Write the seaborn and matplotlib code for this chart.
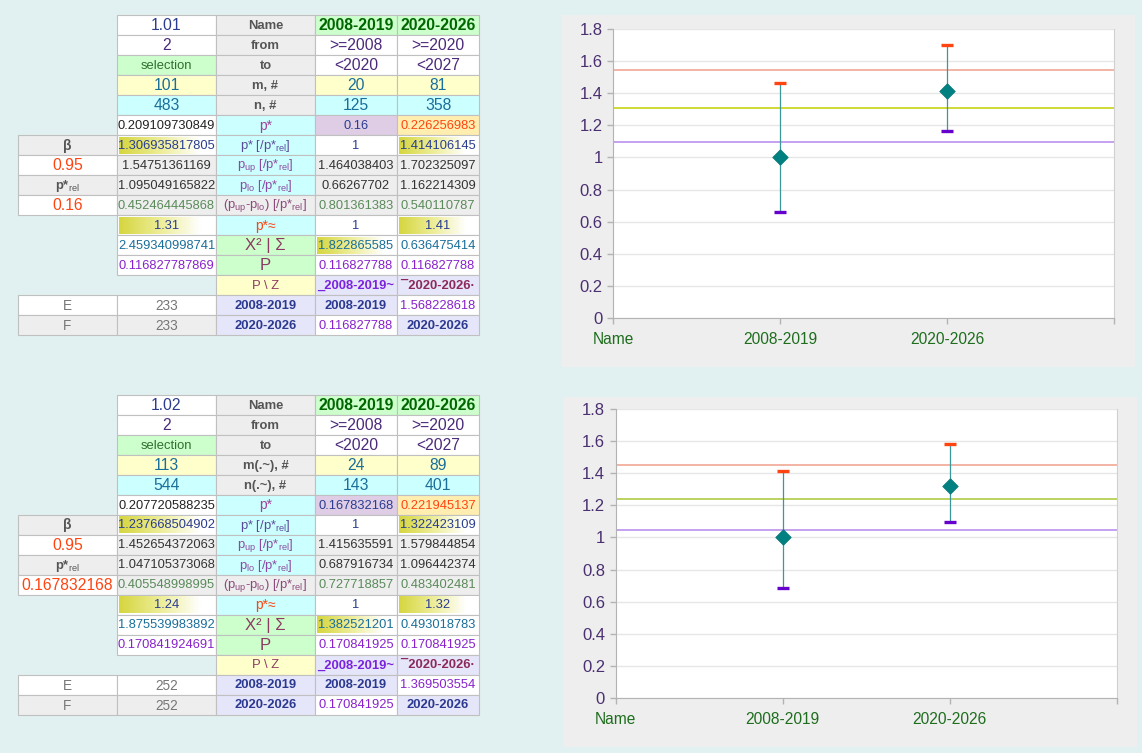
"""Two result blocks: a spreadsheet-like table and an interval chart beside each."""
import numpy as np
import pandas as pd
import matplotlib
matplotlib.use('Agg')
import matplotlib.pyplot as plt
import seaborn as sns
from matplotlib.patches import Rectangle
from matplotlib.colors import LinearSegmentedColormap

# ---- data -------------------------------------------------------------
periods = ['2008-2019', '2020-2026']
from_txt = ['>=2008', '>=2020']
to_txt = ['<2020', '<2027']

# block 1 (values: total, 2008-2019, 2020-2026)
top_version = 1.01
top_count = 2
top_m = [101, 20, 81]
top_n = [483, 125, 358]
top_pstar = [0.209109730849, 0.16, 0.226256983]
top_rel = [1.306935817805, 1, 1.414106145]
top_up = [1.54751361169, 1.464038403, 1.702325097]
top_lo = [1.095049165822, 0.66267702, 1.162214309]
top_span = [0.452464445868, 0.801361383, 0.540110787]
top_approx = [1.31, 1, 1.41]
top_chi = [2.459340998741, 1.822865585, 0.636475414]
top_P = [0.116827787869, 0.116827788, 0.116827788]
top_E = [233, 1.568228618]
top_F = [233, 0.116827788]
top_beta = 0.95
top_prel = 0.16

# block 2
bot_version = 1.02
bot_count = 2
bot_m = [113, 24, 89]
bot_n = [544, 143, 401]
bot_pstar = [0.207720588235, 0.167832168, 0.221945137]
bot_rel = [1.237668504902, 1, 1.322423109]
bot_up = [1.452654372063, 1.415635591, 1.579844854]
bot_lo = [1.047105373068, 0.687916734, 1.096442374]
bot_span = [0.405548998995, 0.727718857, 0.483402481]
bot_approx = [1.24, 1, 1.32]
bot_chi = [1.875539983892, 1.382521201, 0.493018783]
bot_P = [0.170841924691, 0.170841925, 0.170841925]
bot_E = [252, 1.369503554]
bot_F = [252, 0.170841925]
bot_beta = 0.95
bot_prel = 0.167832168

# ---- style -------------------------------------------------------------
plt.rcParams['font.family'] = ['Liberation Sans', 'DejaVu Sans']
plt.rcParams['mathtext.fontset'] = 'custom'
plt.rcParams['mathtext.rm'] = 'Liberation Sans'
plt.rcParams['mathtext.it'] = 'Liberation Sans:italic'

W, G, GREEN, YEL, CYAN, LAV = '#ffffff', '#eeeeee', '#ccffcc', '#ffffcc', '#ccffff', '#e6e6fa'
BLUE, PURP, TEAL, HDR = '#2a3d8f', '#4b2a7a', '#1a6e9a', '#555555'
ORANGE, VIOLET, MAROON = '#ff4411', '#8822cc', '#8b3a62'
BIG, SMALL, LBL = 11.3, 9.3, 9.4
COLS = [18, 117, 216, 315, 397, 479]
ROW_H = 20

grad_cmap = LinearSegmentedColormap.from_list(
    'cellgrad', [(0, '#d6d640'), (0.45, '#eeee9c'), (0.85, '#ffffff'), (1, '#ffffff')])


def fmt(v):
    if isinstance(v, str):
        return v
    v = float(v)
    return str(int(v)) if v.is_integer() else str(v)


def block_rows(b):
    rel_lbl = r'p* [/p*$_{\mathrm{rel}}$]'
    up_lbl = r'p$_{\mathrm{up}}$ [/p*$_{\mathrm{rel}}$]'
    lo_lbl = r'p$_{\mathrm{lo}}$ [/p*$_{\mathrm{rel}}$]'
    span_lbl = r'(p$_{\mathrm{up}}$-p$_{\mathrm{lo}}$) [/p*$_{\mathrm{rel}}$]'
    return [
        [None, (b['version'], W, BLUE, BIG), ('Name', G, HDR, LBL, True),
         (periods[0], GREEN, '#006600', 11.3, True), (periods[1], GREEN, '#006600', 11.3, True)],
        [None, (b['count'], W, PURP, BIG), ('from', G, HDR, LBL, True),
         (from_txt[0], W, PURP, BIG), (from_txt[1], W, PURP, BIG)],
        [None, ('selection', GREEN, '#2f6f2f', LBL), ('to', G, HDR, LBL, True),
         (to_txt[0], W, PURP, BIG), (to_txt[1], W, PURP, BIG)],
        [None, (b['m'][0], YEL, TEAL, BIG), (b['m_lbl'], G, HDR, LBL, True),
         (b['m'][1], YEL, TEAL, BIG), (b['m'][2], YEL, TEAL, BIG)],
        [None, (b['n'][0], CYAN, TEAL, BIG), (b['n_lbl'], G, HDR, LBL, True),
         (b['n'][1], CYAN, TEAL, BIG), (b['n'][2], CYAN, TEAL, BIG)],
        [None, (b['pstar'][0], W, '#222222', SMALL), ('p*', CYAN, '#a0409a', 10),
         (b['pstar'][1], '#dfcde6', BLUE, SMALL), (b['pstar'][2], '#ffeeb0', ORANGE, SMALL)],
        [('β', G, HDR, 10, True), (b['rel'][0], 'grad', BLUE, SMALL), (rel_lbl, CYAN, '#5b4a9a', LBL),
         (b['rel'][1], W, BLUE, SMALL), (b['rel'][2], 'grad', BLUE, SMALL)],
        [(b['beta'], W, ORANGE, BIG), (b['up'][0], G, '#333333', SMALL), (up_lbl, CYAN, '#8b4aa0', LBL),
         (b['up'][1], G, '#333333', SMALL), (b['up'][2], G, '#333333', SMALL)],
        [(r'p*$_{\mathrm{rel}}$', G, HDR, LBL, True), (b['lo'][0], G, '#333333', SMALL),
         (lo_lbl, CYAN, '#8b4aa0', LBL), (b['lo'][1], G, '#333333', SMALL), (b['lo'][2], G, '#333333', SMALL)],
        [(b['prel'], W, ORANGE, BIG), (b['span'][0], G, '#5a8a5a', SMALL), (span_lbl, G, '#8b4a7a', LBL),
         (b['span'][1], G, '#5a8a5a', SMALL), (b['span'][2], G, '#5a8a5a', SMALL)],
        [None, (b['approx'][0], 'grad', BLUE, SMALL), ('p*≈', CYAN, ORANGE, 10),
         (b['approx'][1], W, BLUE, SMALL), (b['approx'][2], 'grad', BLUE, SMALL)],
        [None, (b['chi'][0], W, TEAL, SMALL), ('X² | Σ', GREEN, MAROON, 12),
         (b['chi'][1], 'grad', TEAL, SMALL), (b['chi'][2], W, TEAL, SMALL)],
        [None, (b['P'][0], W, VIOLET, SMALL), ('P', GREEN, MAROON, 12),
         (b['P'][1], W, VIOLET, SMALL), (b['P'][2], W, VIOLET, SMALL)],
        [None, None, ('P \\ Z', YEL, MAROON, LBL),
         ('_' + periods[0] + '~', LAV, '#7a22dd', LBL, True),
         ('¯\u200a' + periods[1] + '·', LAV, '#8b2a5a', LBL, True)],
        [('E', W, '#777777', 9.8), (b['E'][0], W, '#777777', 9.8), (periods[0], LAV, '#2b3990', LBL, True),
         (periods[0], LAV, '#2b3990', LBL, True), (b['E'][1], W, VIOLET, SMALL)],
        [('F', G, '#777777', 9.8), (b['F'][0], G, '#777777', 9.8), (periods[1], LAV, '#2b3990', LBL, True),
         (b['F'][1], W, VIOLET, SMALL), (periods[1], LAV, '#2b3990', LBL, True)],
    ]


def draw_table(ax, y_top, b):
    for r, row in enumerate(block_rows(b)):
        y0 = y_top + r * ROW_H
        for c, cell in enumerate(row):
            if cell is None:
                continue
            text, bg, fg, size = cell[:4]
            bold = len(cell) > 4 and cell[4]
            x0, x1 = COLS[c], COLS[c + 1]
            face = W if bg == 'grad' else bg
            ax.add_patch(Rectangle((x0, y0), x1 - x0, ROW_H, facecolor=face,
                                   edgecolor='#c0c0c0', lw=0.8, zorder=1))
            if bg == 'grad':
                ax.imshow(np.linspace(0, 1, 64)[None, :], cmap=grad_cmap, aspect='auto',
                          extent=(x0 + 1.5, x1 - 1.5, y0 + ROW_H - 1.5, y0 + 1.5),
                          interpolation='bilinear', zorder=1.5)
            ax.text((x0 + x1) / 2, y0 + ROW_H / 2 + 0.5, fmt(text), ha='center', va='center',
                    fontsize=size, color=fg, fontweight='bold' if bold else 'normal', zorder=3)


def draw_chart(fig, rect, b, line_colors):
    ax = fig.add_axes(rect)
    ax.set_facecolor('white')
    df = pd.DataFrame({'period': periods,
                       'pos': np.arange(1, len(periods) + 1),
                       'rel': b['rel'][1:], 'up': b['up'][1:], 'lo': b['lo'][1:]})
    refs = [b['up'][0], b['rel'][0], b['lo'][0]]
    for val, col in zip(refs, line_colors):
        ax.axhline(val, color=col, lw=1.1, zorder=2)
    ax.vlines(df['pos'], df['lo'], df['up'], color='#3c9898', lw=0.9, zorder=3)
    ax.plot(df['pos'], df['up'], ls='none', marker='_', ms=8.8, mew=2.4, color='#ff4411', zorder=4)
    ax.plot(df['pos'], df['lo'], ls='none', marker='_', ms=8.8, mew=2.4, color='#6600cc', zorder=4)
    sns.scatterplot(data=df, x='pos', y='rel', marker='D', s=62, color='#008080',
                    edgecolor='#0a7a7a', linewidth=0.6, zorder=5, ax=ax)
    ax.set_xlim(0, len(periods) + 1)
    ax.set_ylim(0, 1.8)
    yt = np.round(np.arange(0, 1.81, 0.2), 1)
    ax.set_yticks(yt)
    ax.set_yticklabels(['%g' % v for v in yt], color='#4a3070', fontsize=12)
    ax.set_xticks(np.arange(0, len(periods) + 2))
    ax.set_xticklabels(['Name'] + periods + [''], color='#1e6e1e', fontsize=11.2)
    ax.set_xlabel('')
    ax.set_ylabel('')
    ax.yaxis.grid(True, color='#e6e6e6', lw=1)
    ax.set_axisbelow(True)
    for s in ['left', 'bottom']:
        ax.spines[s].set_color('#b3b3b3')
    ax.spines['right'].set_color('#d0d0d0')
    ax.spines['top'].set_visible(False)
    ax.tick_params(axis='both', direction='out', length=4.5, width=1, color='#b3b3b3')
    ax.tick_params(axis='y', pad=3)
    ax.tick_params(axis='x', pad=5.5)
    return ax


def block(prefix):
    g = globals()
    d = {k: g[prefix + k] for k in ['version', 'count', 'm', 'n', 'pstar', 'rel', 'up', 'lo',
                                    'span', 'approx', 'chi', 'P', 'E', 'F', 'beta', 'prel']}
    return d


top = block('top_')
top.update(m_lbl='m, #', n_lbl='n, #')
bot = block('bot_')
bot.update(m_lbl='m(.~), #', n_lbl='n(.~), #')

fig = plt.figure(figsize=(11.42, 7.53), dpi=100)
fig.patch.set_facecolor('#e1f0f0')
bg = fig.add_axes([0, 0, 1, 1])
bg.set_axis_off()
bg.set_zorder(0)

# chart panels
bg.add_patch(Rectangle((562, 15), 573, 352, facecolor='#eeeeee', edgecolor='none', zorder=0.5))
bg.add_patch(Rectangle((564, 397), 573, 350, facecolor='#eeeeee', edgecolor='none', zorder=0.5))

draw_table(bg, 15, top)
draw_table(bg, 395, bot)
bg.set_xlim(0, 1142)
bg.set_ylim(753, 0)

FW, FH = 1142, 753
draw_chart(fig, [613 / FW, 1 - 318 / FH, 501 / FW, 289 / FH], top,
           ['#f0a08c', '#c4d000', '#b488ee'])
draw_chart(fig, [615.5 / FW, 1 - 698 / FH, 501 / FW, 289 / FH], bot,
           ['#f0a08c', '#a8c838', '#b488ee'])

fig.savefig('out.png', dpi=100, facecolor=fig.get_facecolor())
